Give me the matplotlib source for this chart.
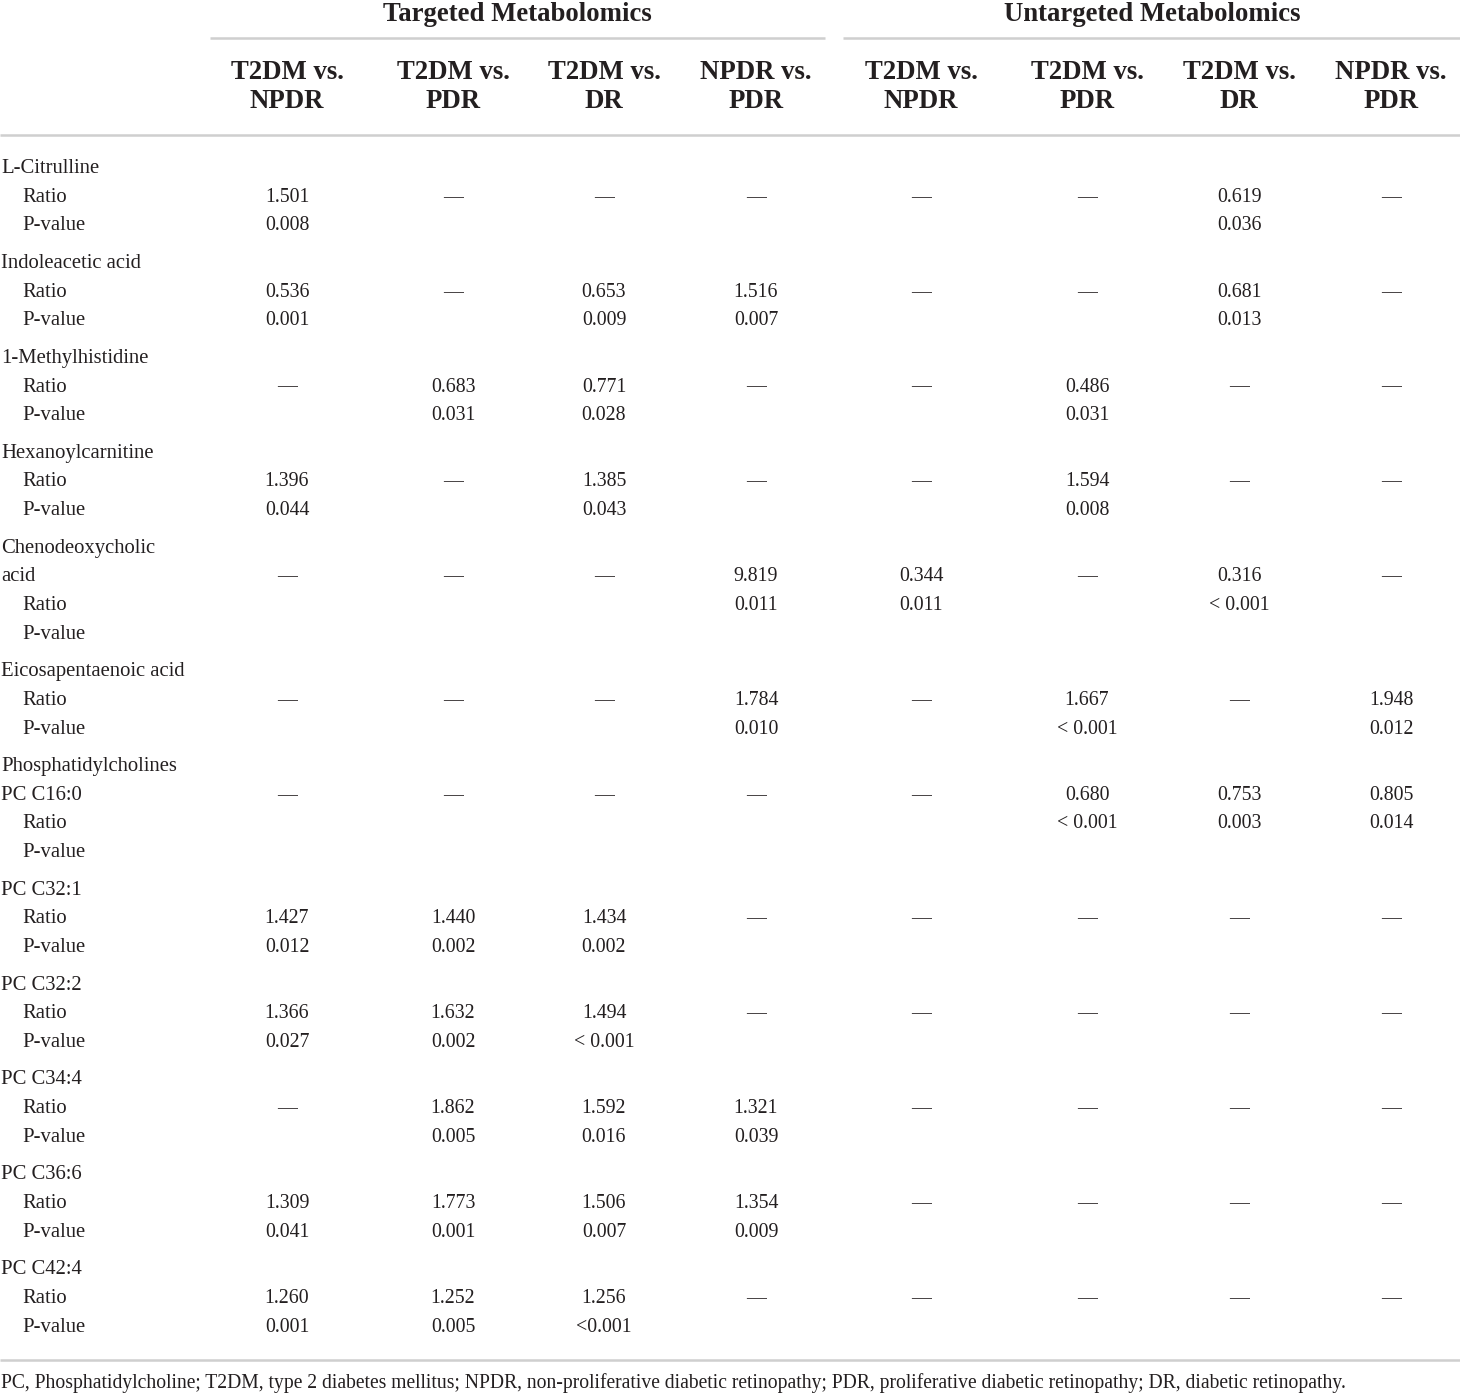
import matplotlib
matplotlib.use("Agg")
import matplotlib.pyplot as plt

# ---------------- data ----------------
groups = ["Targeted Metabolomics", "Untargeted Metabolomics"]
comparisons = ["T2DM vs.\nNPDR", "T2DM vs.\nPDR", "T2DM vs.\nDR", "NPDR vs.\nPDR"]

# label lines for each block (values start on the second line of each block)
block_labels = [
    ["L-Citrulline", "Ratio", "P-value"],
    ["Indoleacetic acid", "Ratio", "P-value"],
    ["1-Methylhistidine", "Ratio", "P-value"],
    ["Hexanoylcarnitine", "Ratio", "P-value"],
    ["Chenodeoxycholic", "acid", "Ratio", "P-value"],
    ["Eicosapentaenoic acid", "Ratio", "P-value"],
    ["Phosphatidylcholines", "PC C16:0", "Ratio", "P-value"],
    ["PC C32:1", "Ratio", "P-value"],
    ["PC C32:2", "Ratio", "P-value"],
    ["PC C34:4", "Ratio", "P-value"],
    ["PC C36:6", "Ratio", "P-value"],
    ["PC C42:4", "Ratio", "P-value"],
]
indented = {"Ratio", "P-value"}

N = None
ratios = [
    [1.501, N, N, N, N, N, 0.619, N],
    [0.536, N, 0.653, 1.516, N, N, 0.681, N],
    [N, 0.683, 0.771, N, N, 0.486, N, N],
    [1.396, N, 1.385, N, N, 1.594, N, N],
    [N, N, N, 9.819, 0.344, N, 0.316, N],
    [N, N, N, 1.784, N, 1.667, N, 1.948],
    [N, N, N, N, N, 0.680, 0.753, 0.805],
    [1.427, 1.440, 1.434, N, N, N, N, N],
    [1.366, 1.632, 1.494, N, N, N, N, N],
    [N, 1.862, 1.592, 1.321, N, N, N, N],
    [1.309, 1.773, 1.506, 1.354, N, N, N, N],
    [1.260, 1.252, 1.256, N, N, N, N, N],
]
pvalues = [
    ["0.008", "", "", "", "", "", "0.036", ""],
    ["0.001", "", "0.009", "0.007", "", "", "0.013", ""],
    ["", "0.031", "0.028", "", "", "0.031", "", ""],
    ["0.044", "", "0.043", "", "", "0.008", "", ""],
    ["", "", "", "0.011", "0.011", "", "< 0.001", ""],
    ["", "", "", "0.010", "", "< 0.001", "", "0.012"],
    ["", "", "", "", "", "< 0.001", "0.003", "0.014"],
    ["0.012", "0.002", "0.002", "", "", "", "", ""],
    ["0.027", "0.002", "< 0.001", "", "", "", "", ""],
    ["", "0.005", "0.016", "0.039", "", "", "", ""],
    ["0.041", "0.001", "0.007", "0.009", "", "", "", ""],
    ["0.001", "0.005", "<0.001", "", "", "", "", ""],
]

footnote = ("PC, Phosphatidylcholine; T2DM, type 2 diabetes mellitus; NPDR, non-proliferative "
            "diabetic retinopathy; PDR, proliferative diabetic retinopathy; DR, diabetic retinopathy.")

# ---------------- layout ----------------
W, H = 1460, 1393
fig = plt.figure(figsize=(W / 100, H / 100), dpi=100)
ax = fig.add_axes([0, 0, 1, 1])
ax.set_xlim(0, W)
ax.set_ylim(H, 0)
ax.axis("off")

FONT = "Liberation Serif"
LABEL = 14.9
NUM = 14.3
HEAD = 19.3
FOOT = 14.1
TXT = "#231f20"
RULE = "#cfcfcf"

col_x = [287, 453, 604, 756, 921, 1087, 1239, 1391]
group_x = [517, 1152]
group_spans = [(210, 825), (843, 1460)]

# group headers
for gx, g, (x0, x1) in zip(group_x, groups, group_spans):
    ax.text(gx, 21, g, ha="center", va="baseline", fontsize=HEAD, fontweight="bold",
            family=FONT, color=TXT)
    ax.plot([x0, x1], [38, 38], color=RULE, lw=1.8, solid_capstyle="butt")

# comparison headers
for i, cx in enumerate(col_x):
    top, bot = comparisons[i % 4].split("\n")
    ax.text(cx, 79, top, ha="center", va="baseline", fontsize=HEAD, fontweight="bold",
            family=FONT, color=TXT)
    ax.text(cx, 108, bot, ha="center", va="baseline", fontsize=HEAD, fontweight="bold",
            family=FONT, color=TXT)

ax.plot([0, W], [134.5, 134.5], color=RULE, lw=1.8, solid_capstyle="butt")

# body
y0 = 173.0
LINE = 28.7
GAP = 8.8
line_count = 0
for b, labels in enumerate(block_labels):
    base = y0 + line_count * LINE + b * GAP
    for j, lab in enumerate(labels):
        x = 22 if lab in indented else 1
        ax.text(x, base + j * LINE, lab, ha="left", va="baseline", fontsize=LABEL,
                family=FONT, color=TXT)
    yr = base + LINE
    yp = base + 2 * LINE
    for c, cx in enumerate(col_x):
        r = ratios[b][c]
        s = "\u2014" if r is None else f"{r:.3f}"
        ax.text(cx, yr, s, ha="center", va="baseline", fontsize=NUM, family=FONT, color=TXT)
        p = pvalues[b][c]
        if p:
            ax.text(cx, yp, p, ha="center", va="baseline", fontsize=NUM, family=FONT, color=TXT)
    line_count += len(labels)

ax.plot([0, W], [1359.5, 1359.5], color=RULE, lw=1.8, solid_capstyle="butt")
ax.text(1, 1388, footnote, ha="left", va="baseline", fontsize=FOOT, family=FONT, color=TXT)

fig.savefig("out.png", dpi=100, facecolor="white")
